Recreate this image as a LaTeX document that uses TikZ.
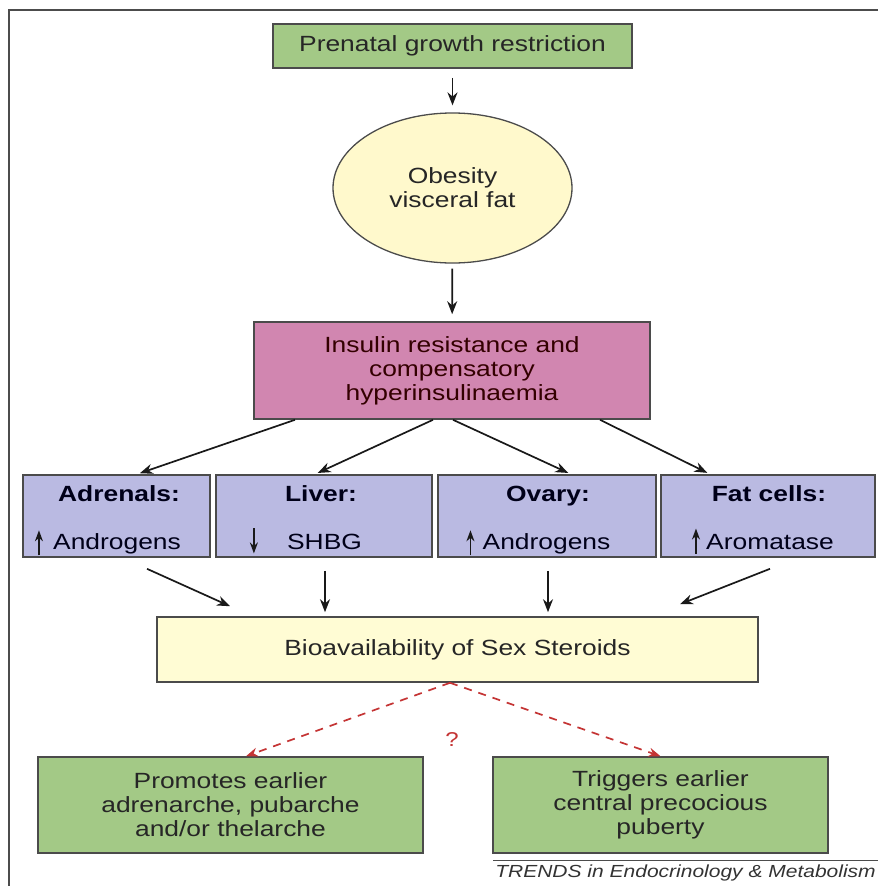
\documentclass[tikz,border=0pt]{standalone}
\usepackage{fontspec}
\setmainfont[FakeStretch=1.2]{Liberation Sans}
\usetikzlibrary{arrows.meta,shapes.geometric}

\definecolor{boxgreen}{RGB}{163,201,134}
\definecolor{ovalyellow}{RGB}{255,249,204}
\definecolor{boxpink}{RGB}{209,134,176}
\definecolor{boxlilac}{RGB}{186,186,226}
\definecolor{bioyellow}{RGB}{255,252,212}
\definecolor{edgegray}{RGB}{75,75,75}
\definecolor{dashred}{RGB}{196,52,52}

\begin{document}
\begin{tikzpicture}[
        x=1pt, y=-1pt,
        box/.style={draw=edgegray, line width=1.6pt, rectangle, inner sep=0pt, align=center,
            font=\fontsize{22}{24}\selectfont, text=black!85},
        organ/.style={box, fill=boxlilac, minimum height=82pt, text=blue!10!black},
        head/.style={font=\fontsize{22}{24}\selectfont\bfseries, text=blue!10!black, inner sep=0pt, anchor=base},
        value/.style={font=\fontsize{22}{24}\selectfont, text=blue!10!black, inner sep=0pt, anchor=base},
        flow/.style={-{Stealth[length=13pt,width=10pt]}, line width=1.7pt, black!90},
        tick/.style={-{Stealth[length=11pt,width=8pt]}, line width=1.6pt, black!90},
        maybe/.style={-{Stealth[length=12pt,width=9pt]}, line width=1.7pt, dashred, dash pattern=on 8pt off 7pt}
    ]
    \useasboundingbox (0,0) rectangle (878,886);

    % Frame
    \draw[line width=1.8pt, black!70] (9,886) -- (9,10) -- (878,10);

    % Top chain
    \node[box, fill=boxgreen, minimum width=359pt, minimum height=44pt] (pren) at (452.5,46) {Prenatal growth restriction};
    \node[box, ellipse, fill=ovalyellow, line width=1.3pt, minimum width=239pt, minimum height=150pt] (obes) at (452.5,188) {Obesity\\visceral fat};
    \node[box, fill=boxpink, minimum width=396pt, minimum height=97pt, text=red!20!black] (ins) at (452,370.5) {Insulin resistance and\\compensatory\\hyperinsulinaemia};

    \draw[flow, shorten <=9pt, shorten >=7pt] (pren) -- (obes);
    \draw[flow, shorten <=5pt, shorten >=7pt] (obes) -- (ins);

    % Organs
    \node[organ, minimum width=187pt] (adr) at (116.5,516) {};
    \node[organ, minimum width=216pt] (liv) at (324,516) {};
    \node[organ, minimum width=218pt] (ova) at (547,516) {};
    \node[organ, minimum width=214pt] (fat) at (768,516) {};

    \node[head] (adrH) at (119,501) {Adrenals:};
    \node[head] (livH) at (321,501) {Liver:};
    \node[head] (ovaH) at (548,501) {Ovary:};
    \node[head] (fatH) at (769,501) {Fat cells:};

    \node[value] (adrV) at (117,549) {Androgens};
    \node[value] (livV) at (324.5,549) {SHBG};
    \node[value] (ovaV) at (546.5,549) {Androgens};
    \node[value] (fatV) at (770,549) {Aromatase};

    % Up / down marks
    \draw[tick] ([xshift=-14pt,yshift=-12pt]adrV.west) -- ([xshift=-14pt,yshift=13pt]adrV.west);
    \draw[tick] ([xshift=-33pt,yshift=13pt]livV.west) -- ([xshift=-33pt,yshift=-12pt]livV.west);
    \draw[tick] ([xshift=-12pt,yshift=-12pt]ovaV.west) -- ([xshift=-12pt,yshift=13pt]ovaV.west);
    \draw[tick] ([xshift=-10pt,yshift=-12pt]fatV.west) -- ([xshift=-10pt,yshift=13pt]fatV.west);

    % Fan out
    \draw[flow, shorten >=3pt] ([xshift=-157pt]ins.south) -- ([xshift=20.5pt]adr.north);
    \draw[flow, shorten >=3pt] ([xshift=-19pt]ins.south) -- ([xshift=-9pt]liv.north);
    \draw[flow, shorten >=3pt] ([xshift=1pt]ins.south) -- ([xshift=24pt]ova.north);
    \draw[flow, shorten >=3pt] ([xshift=148pt]ins.south) -- ([xshift=-58pt]fat.north);

    % Bioavailability
    \node[box, fill=bioyellow, minimum width=601pt, minimum height=65pt] (bio) at (457.5,649.5) {Bioavailability of Sex Steroids};

    \draw[flow] ([xshift=30.5pt,yshift=-11pt]adr.south) -- ([xshift=-227.5pt,yshift=10pt]bio.north);
    \draw[flow] ([xshift=1pt,yshift=-13pt]liv.south) -- ([xshift=-132.5pt,yshift=4pt]bio.north);
    \draw[flow] ([xshift=1pt,yshift=-13pt]ova.south) -- ([xshift=90.5pt,yshift=4pt]bio.north);
    \draw[flow] ([xshift=2pt,yshift=-11pt]fat.south) -- ([xshift=222.5pt,yshift=12pt]bio.north);

    % Outcomes
    \node[box, fill=boxgreen, minimum width=385pt, minimum height=96pt] (prom) at (230.5,805) {Promotes earlier\\adrenarche, pubarche\\and/or thelarche};
    \node[box, fill=boxgreen, minimum width=335pt, minimum height=96pt] (trig) at (660.5,805) {Triggers earlier\\central precocious\\puberty};

    \draw[maybe] ([xshift=-7.5pt]bio.south) -- ([xshift=15.5pt]prom.north);
    \draw[maybe] ([xshift=-7.5pt]bio.south) -- (trig.north);
    \node[text=dashred, font=\fontsize{20}{22}\selectfont] (q) at (452,740) {?};

    % Credit
    \node[anchor=south east, inner xsep=2pt, inner ysep=3pt, font=\fontsize{17.5}{19}\selectfont\itshape, text=black!80] (credit) at (878,884) {TRENDS in Endocrinology \& Metabolism};
    \draw[line width=0.9pt, black!70] ([yshift=1pt]credit.north west) -- ([yshift=1pt]credit.north east);

\end{tikzpicture}
\end{document}
